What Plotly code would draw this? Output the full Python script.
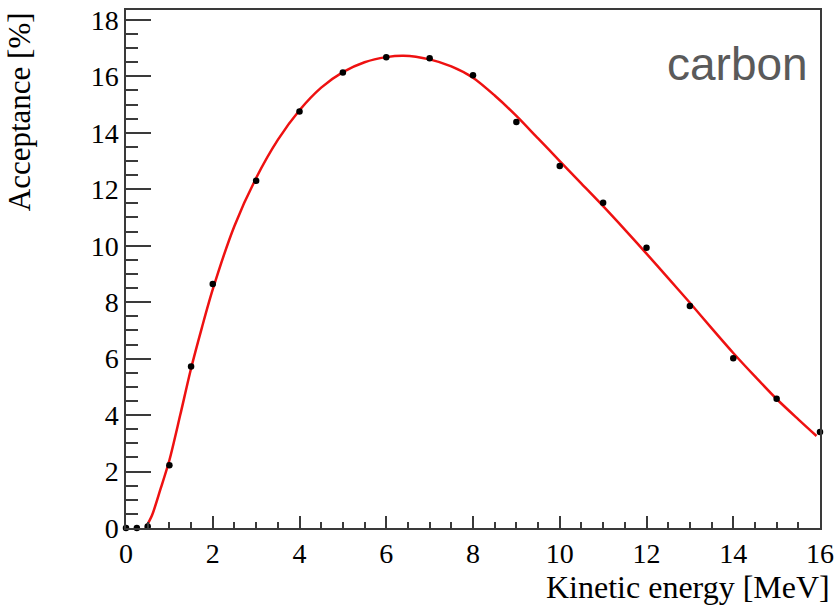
import plotly.graph_objects as go

# Measured acceptance points
energy = [0, 0.25, 0.5, 1, 1.5, 2, 3, 4, 5, 6, 7, 8, 9, 10, 11, 12, 13, 14, 15, 16]
acceptance = [0, 0, 0.05, 2.22, 5.72, 8.64, 12.3, 14.75, 16.14, 16.68, 16.64, 16.04, 14.38,
               12.82, 11.52, 9.93, 7.86, 6.01, 4.58, 3.40]

# Fit curve
fit_x = [0.45, 0.6, 0.8, 1.0, 1.25, 1.5, 1.75, 2.0, 2.5, 3.0, 3.5, 4.0, 4.5, 5.0, 5.5, 6.0, 6.4,
         7.0, 7.5, 8.0, 8.5, 9.0, 9.5, 10.0, 10.5, 11.0, 11.5, 12.0, 12.5, 13.0, 13.5, 14.0,
         14.5, 15.0, 15.5, 15.92]
fit_y = [0.0, 0.45, 1.4, 2.4, 4.0, 5.65, 7.1, 8.45, 10.7, 12.4, 13.75, 14.8, 15.6, 16.15, 16.5,
         16.68, 16.73, 16.6, 16.35, 15.95, 15.32, 14.6, 13.8, 13.0, 12.2, 11.4, 10.57, 9.72, 8.85,
         7.98, 7.08, 6.2, 5.37, 4.57, 3.85, 3.26]

x_ticks = [0, 2, 4, 6, 8, 10, 12, 14, 16]
y_ticks = [0, 2, 4, 6, 8, 10, 12, 14, 16, 18]

serif = "Liberation Serif"
axcol = "#3a3a3a"

fig = go.Figure()
fig.add_trace(go.Scatter(x=fit_x, y=fit_y, mode="lines",
                         line=dict(color="#ee1111", width=2.5, shape="spline", smoothing=0.8),
                         hoverinfo="skip", showlegend=False))
fig.add_trace(go.Scatter(x=energy, y=acceptance, mode="markers",
                         marker=dict(color="black", size=6.5),
                         showlegend=False, cliponaxis=False))

fig.update_layout(
    width=839, height=609,
    margin=dict(l=126, r=15, t=5, b=81),
    paper_bgcolor="white", plot_bgcolor="white",
    font=dict(family=serif, size=28, color="black"),
    xaxis=dict(range=[0, 16], tickvals=x_ticks, ticks="inside", ticklen=12, tickwidth=1.5,
               tickcolor=axcol, showline=True, linecolor=axcol, linewidth=1.5, mirror=True,
               showgrid=False, zeroline=False,
               minor=dict(dtick=0.5, ticks="inside", ticklen=6, tickwidth=1.5, tickcolor=axcol),
               tickfont=dict(family=serif, size=28, color="black")),
    yaxis=dict(range=[0, 18.35], tickvals=y_ticks, ticks="inside", ticklen=25, tickwidth=1.5,
               tickcolor=axcol, showline=True, linecolor=axcol, linewidth=1.5, mirror=True,
               showgrid=False, zeroline=False,
               minor=dict(dtick=0.5, ticks="inside", ticklen=12, tickwidth=1.5, tickcolor=axcol),
               tickfont=dict(family=serif, size=28, color="black")),
    annotations=[
        dict(text="Kinetic energy [MeV]", xref="paper", yref="paper", x=1.017, y=-0.153,
             xanchor="right", yanchor="bottom", showarrow=False,
             font=dict(family=serif, size=32, color="black")),
        dict(text="Acceptance [%]", xref="paper", yref="paper", x=-0.125, y=1.0,
             xanchor="right", yanchor="top", textangle=-90, showarrow=False,
             font=dict(family=serif, size=31, color="black")),
        dict(text="carbon", xref="paper", yref="paper", x=0.985, y=0.895,
             xanchor="right", yanchor="middle", showarrow=False,
             font=dict(family="Liberation Sans", size=46, color="#5a5a5a")),
    ],
)

fig.write_html("out.html")
